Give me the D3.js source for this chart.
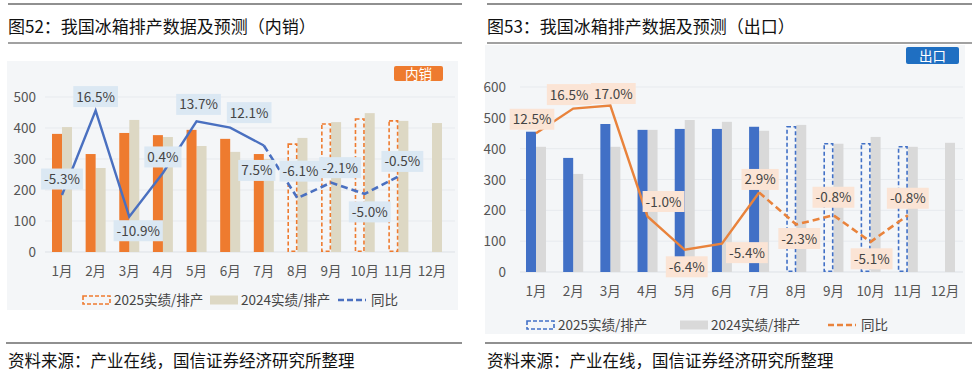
<!DOCTYPE html>
<html>
<head>
<meta charset="utf-8">
<script src="https://cdn.jsdelivr.net/npm/d3@7"></script>
<style>
  body { margin: 0; background: #fff; }
  svg { display: block; font-family: "Noto Sans CJK SC", "Noto Sans", sans-serif; }
</style>
</head>
<body>
<svg id="chart" width="978" height="375"></svg>
<script>
// ---- data ----
const months = ['1月','2月','3月','4月','5月','6月','7月','8月','9月','10月','11月','12月'];
const actualMonths = 7; // 1-7月实绩, 8月起为排产

// 内销 (万台)
const dom2025 = [381, 316, 384, 377, 394, 365, 316, 348, 413, 429, 423, null];
const dom2024 = [403, 271, 426, 371, 342, 323, 300, 368, 419, 448, 423, 416];
const domYoY  = [-5.3, 16.5, -10.9, 0.4, 13.7, 12.1, 7.5, -6.1, -2.1, -5.0, -0.5];
// 出口 (万台)
const exp2025 = [455, 370, 480, 461, 464, 464, 471, 471, 416, 416, 406, null];
const exp2024 = [406, 318, 406, 461, 493, 487, 458, 477, 416, 438, 406, 419];
const expYoY  = [12.5, 16.5, 17.0, -1.0, -6.4, -5.4, 2.9, -2.3, -0.8, -5.1, -0.8];

const yTicks = [0, 100, 200, 300, 400, 500];
const yTicksExp = [0, 100, 200, 300, 400, 500, 600];

// label offsets relative to the point (px)
const domLabelOff = [[0,-16],[0,-14],[9,14],[0,-16],[2,-17],[19,-15],[-7,25],[3,-27],[9,-15],[5,18],[4,-15]];
const expLabelOff = [[-4,-14],[-4,-14],[3,-12],[16,-15],[2,17],[25,9],[1,-13],[3,14],[0,-18],[1,17],[0,-17]];

const svg = d3.select('#chart');

function panel(cfg) {
  const g = svg.append('g');

  // title & rules
  g.append('line').attr('x1', cfg.left).attr('x2', cfg.right).attr('y1', 4).attr('y2', 4)
    .attr('stroke', '#222').attr('stroke-width', 1.2);
  g.append('text').attr('x', cfg.left).attr('y', 33).text(cfg.title)
    .attr('font-size', 17).attr('fill', '#111');
  g.append('line').attr('x1', cfg.left).attr('x2', cfg.right).attr('y1', 43).attr('y2', 43)
    .attr('stroke', '#444').attr('stroke-width', 1.2);

  // chart background
  g.append('rect').attr('x', cfg.bg[0]).attr('y', cfg.bg[1])
    .attr('width', cfg.bg[2] - cfg.bg[0]).attr('height', cfg.bg[3] - cfg.bg[1])
    .attr('fill', '#f4f6f8');

  // footer
  g.append('line').attr('x1', cfg.left - 2).attr('x2', cfg.right).attr('y1', 343).attr('y2', 343)
    .attr('stroke', '#222').attr('stroke-width', 1.2);
  g.append('text').attr('x', cfg.left).attr('y', 367).text('资料来源：产业在线，国信证券经济研究所整理')
    .attr('font-size', 16.5).attr('fill', '#111');

  const x = d3.scalePoint().domain(months).range(cfg.xRange);
  const y = d3.scaleLinear().domain([0, cfg.yMax]).range(cfg.yRange);
  const y2 = d3.scaleLinear().domain(cfg.pctDomain).range(cfg.yRange);

  // grid + y labels
  g.selectAll('.grid').data(cfg.ticks).join('line')
    .attr('x1', cfg.gridX[0]).attr('x2', cfg.gridX[1])
    .attr('y1', d => y(d)).attr('y2', d => y(d))
    .attr('stroke', d => d === 0 ? '#dde1e6' : '#e7eaee').attr('stroke-width', 1);
  g.selectAll('.ylab').data(cfg.ticks).join('text')
    .attr('x', cfg.yLabelX).attr('y', d => y(d) + 5)
    .attr('text-anchor', 'end').attr('font-size', 13.5).attr('fill', '#555')
    .text(d => d);

  // x labels
  g.selectAll('.xlab').data(months).join('text')
    .attr('x', d => x(d)).attr('y', y(0) + 24)
    .attr('text-anchor', 'middle').attr('font-size', 13.5).attr('fill', '#555')
    .text(d => d);

  const bw = 10;
  // 2024 bars
  g.selectAll('.b24').data(cfg.v2024).join('rect')
    .attr('x', (d, i) => x(months[i]))
    .attr('y', d => y(d)).attr('width', bw).attr('height', d => y(0) - y(d))
    .attr('fill', cfg.c2024);
  // 2025 actual bars
  const v25 = cfg.v2025.map((v, i) => ({ v, i })).filter(d => d.v != null);
  g.selectAll('.b25').data(v25.filter(d => d.i < actualMonths)).join('rect')
    .attr('x', d => x(months[d.i]) - bw)
    .attr('y', d => y(d.v)).attr('width', bw).attr('height', d => y(0) - y(d.v))
    .attr('fill', cfg.c2025);
  // 2025 forecast bars (dashed)
  g.selectAll('.b25f').data(v25.filter(d => d.i >= actualMonths)).join('rect')
    .attr('x', d => x(months[d.i]) - bw + 0.75)
    .attr('y', d => y(d.v)).attr('width', bw - 1.5).attr('height', d => y(0) - y(d.v) - 0.75)
    .attr('fill', 'none').attr('stroke', cfg.c2025).attr('stroke-width', 1.6)
    .attr('stroke-dasharray', '4,2.5');

  // yoy line
  const pts = cfg.yoy.map((v, i) => [x(months[i]) + cfg.lineDx, y2(v)]);
  const line = d3.line();
  g.append('path').attr('d', line(pts.slice(0, actualMonths)))
    .attr('fill', 'none').attr('stroke', cfg.cLine).attr('stroke-width', 2.4);
  g.append('path').attr('d', line(pts.slice(actualMonths - 1)))
    .attr('fill', 'none').attr('stroke', cfg.cLine).attr('stroke-width', 2.6)
    .attr('stroke-dasharray', '7,4');

  // yoy labels
  cfg.yoy.forEach((v, i) => {
    const cx = pts[i][0] + cfg.labelOff[i][0];
    const cy = pts[i][1] + cfg.labelOff[i][1];
    const lg = g.append('g');
    const t = lg.append('text').attr('x', cx).attr('y', cy + 5)
      .attr('text-anchor', 'middle').attr('font-size', 13.5).attr('fill', '#444')
      .text(v.toFixed(1) + '%');
    const w = t.node().getComputedTextLength() + 6;
    lg.insert('rect', 'text').attr('x', cx - w / 2).attr('y', cy - 10.5)
      .attr('width', w).attr('height', 21).attr('fill', cfg.cLabel);
  });

  // tag
  const tg = g.append('g');
  tg.append('rect').attr('x', cfg.tag[0]).attr('y', cfg.tag[1]).attr('width', cfg.tag[2]).attr('height', cfg.tag[3])
    .attr('rx', 2).attr('fill', cfg.cTag);
  tg.append('text').attr('x', cfg.tag[0] + cfg.tag[2] / 2).attr('y', cfg.tag[1] + cfg.tag[3] / 2 + 5)
    .attr('text-anchor', 'middle').attr('font-size', 13.5).attr('fill', '#fff').text(cfg.tagText);

  // legend
  const L = cfg.legend;
  const ly = L.y;
  g.append('rect').attr('x', L.x[0]).attr('y', ly - 4).attr('width', 27).attr('height', 8)
    .attr('fill', 'none').attr('stroke', cfg.c2025).attr('stroke-width', 1.6).attr('stroke-dasharray', '4,2');
  g.append('text').attr('x', L.x[0] + 31).attr('y', ly + 5).attr('font-size', 13.5).attr('fill', '#444').text('2025实绩/排产');
  g.append('rect').attr('x', L.x[1]).attr('y', ly - 4.5).attr('width', 28).attr('height', 9).attr('fill', cfg.c2024);
  g.append('text').attr('x', L.x[1] + 31).attr('y', ly + 5).attr('font-size', 13.5).attr('fill', '#444').text('2024实绩/排产');
  g.append('line').attr('x1', L.x[2]).attr('x2', L.x[2] + 28).attr('y1', ly).attr('y2', ly)
    .attr('stroke', cfg.cLine).attr('stroke-width', 2.6).attr('stroke-dasharray', '6,3');
  g.append('text').attr('x', L.x[2] + 33).attr('y', ly + 5).attr('font-size', 13.5).attr('fill', '#444').text('同比');
}

panel({
  title: '图52：我国冰箱排产数据及预测（内销）',
  left: 8, right: 462,
  bg: [7, 61, 458, 310],
  xRange: [62, 432], yMax: 500, yRange: [252, 97], pctDomain: [-20, 20],
  ticks: yTicks, gridX: [45, 455], yLabelX: 36,
  v2025: dom2025, v2024: dom2024, yoy: domYoY, labelOff: domLabelOff, lineDx: 0,
  c2025: '#ee7b2f', c2024: '#ddd8c4', cLine: '#4a70c0', cLabel: '#dbe8f3',
  tag: [394, 66, 49, 15], tagText: '内销', cTag: '#ee7b2f',
  legend: { y: 300, x: [83, 210, 338] }
});

panel({
  title: '图53：我国冰箱排产数据及预测（出口）',
  left: 487, right: 972,
  bg: [485, 45, 965, 334],
  xRange: [536, 945], yMax: 600, yRange: [272, 87], pctDomain: [-10, 20],
  ticks: yTicksExp, gridX: [520, 963], yLabelX: 506,
  v2025: exp2025, v2024: exp2024, yoy: expYoY, labelOff: expLabelOff, lineDx: 0,
  c2025: '#4170c6', c2024: '#d9d9d9', cLine: '#e9833c', cLabel: '#fbe4d5',
  tag: [906, 47, 53, 17], tagText: '出口', cTag: '#1f6fc2',
  legend: { y: 325, x: [527, 680, 828] }
});
</script>
</body>
</html>
